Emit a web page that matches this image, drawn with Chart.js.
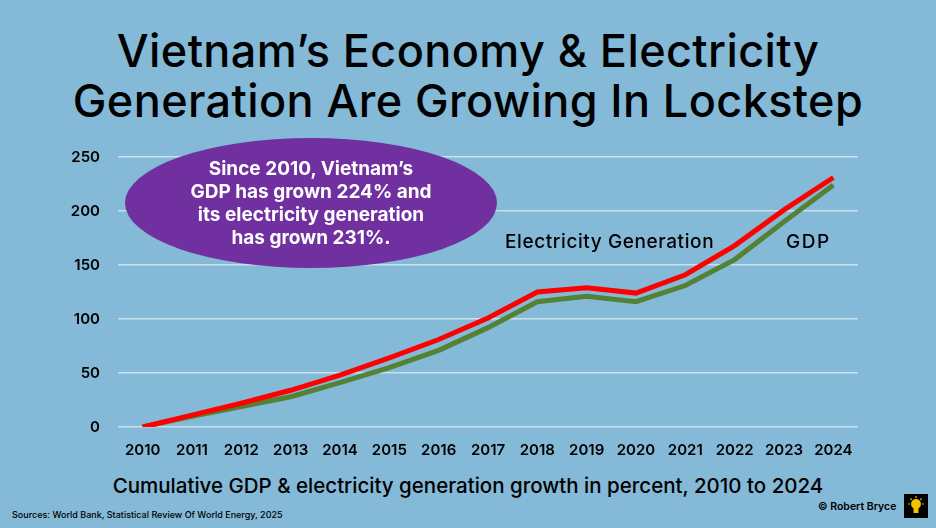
<!DOCTYPE html>
<html>
<head>
<meta charset="utf-8">
<script src="https://cdn.jsdelivr.net/npm/chart.js@4.4.1/dist/chart.umd.min.js"></script>
<style>
  html, body { margin: 0; padding: 0; }
  body {
    width: 936px; height: 528px; position: relative; overflow: hidden;
    background: #84b9d7; font-family: Inter, "Noto Sans", sans-serif; color: #000;
  }
  #title {
    position: absolute; left: 0; top: 26px; width: 936px; text-align: center;
    font-size: 45px; font-weight: 500; line-height: 50px; letter-spacing: 0.4px;
  }
  #wrap { position: absolute; left: 0; top: 130px; width: 936px; height: 340px; }
  #bubble {
    position: absolute; left: 125px; top: 138px; width: 372px; height: 130px;
    border-radius: 50%; background: #7030a0; color: #fff;
    display: flex; align-items: center; justify-content: center; text-align: center;
    font-size: 19px; font-weight: 700; line-height: 23px;
  }
  .lbl { position: absolute; font-size: 19px; font-weight: 500; letter-spacing: 0.6px; }
  #caption {
    position: absolute; left: 0; top: 473px; width: 936px; text-align: center;
    font-size: 20.5px; font-weight: 500;
  }
  #source { position: absolute; left: 12px; top: 509px; font-size: 9px; font-weight: 500; }
  #credit { position: absolute; left: 818px; top: 500px; font-size: 10.5px; font-weight: 600; }
  #logo { position: absolute; left: 904px; top: 494px; }
</style>
</head>
<body>
<div id="title">Vietnam’s Economy &amp; Electricity<br>Generation Are Growing In Lockstep</div>
<div id="wrap"><canvas id="chart"></canvas></div>
<div id="bubble">Since 2010, Vietnam’s<br>GDP has grown 224% and<br>its electricity generation<br>has grown 231%.</div>
<div class="lbl" style="left:505px; top:230px;">Electricity Generation</div>
<div class="lbl" style="left:786px; top:230px; letter-spacing:1.5px;">GDP</div>
<div id="caption">Cumulative GDP &amp; electricity generation growth in percent, 2010 to 2024</div>
<div id="source">Sources: World Bank, Statistical Review Of World Energy, 2025</div>
<div id="credit">© Robert Bryce</div>
<svg id="logo" width="24" height="24" viewBox="0 0 24 24">
  <rect width="24" height="24" fill="#000"/>
  <circle cx="12" cy="10" r="5" fill="#f2c200"/>
  <rect x="9.5" y="14" width="5" height="5" fill="#f2c200"/>
  <g stroke="#f2c200" stroke-width="1.2">
    <line x1="12" y1="2" x2="12" y2="4"/><line x1="4" y1="10" x2="6" y2="10"/>
    <line x1="18" y1="10" x2="20" y2="10"/><line x1="6.5" y1="4.5" x2="7.8" y2="5.8"/>
    <line x1="17.5" y1="4.5" x2="16.2" y2="5.8"/>
  </g>
</svg>
<script>
const years = ['2010','2011','2012','2013','2014','2015','2016','2017','2018','2019','2020','2021','2022','2023','2024'];
const electricity = [0, 11, 22, 34, 48, 64, 81, 101, 125, 129, 124, 141, 168, 201, 231];
const gdp = [0, 10, 19, 28, 41, 55, 71, 92, 116, 121, 116, 131, 155, 190, 224];
const yTicks = [0, 50, 100, 150, 200, 250];

const tickFont = { family: 'Inter, "Noto Sans", sans-serif', size: 15, weight: '600' };

new Chart(document.getElementById('chart'), {
  type: 'line',
  data: {
    labels: years,
    datasets: [
      { label: 'GDP', data: gdp, borderColor: '#548235', borderWidth: 5, pointRadius: 0, tension: 0, order: 2 },
      { label: 'Electricity Generation', data: electricity, borderColor: '#ff0000', borderWidth: 5, pointRadius: 0, tension: 0, order: 1 }
    ]
  },
  options: {
    responsive: true,
    maintainAspectRatio: false,
    animation: false,
    layout: { padding: { left: 68, right: 78, top: 7, bottom: 3 } },
    plugins: { legend: { display: false }, tooltip: { enabled: false } },
    scales: {
      x: {
        offset: true,
        grid: { display: false, drawTicks: false },
        border: { display: false },
        ticks: { color: '#000', font: tickFont, padding: 14, maxRotation: 0, autoSkip: false },
        afterFit: s => { s.height = 40; }
      },
      y: {
        min: 0, max: 250,
        afterBuildTicks: s => { s.ticks = yTicks.map(v => ({ value: v })); },
        grid: { color: 'rgba(225,238,246,0.75)', lineWidth: 1.5, drawTicks: false },
        border: { display: false },
        ticks: { color: '#000', font: tickFont, padding: 18 },
        afterFit: s => { s.width = 50; }
      }
    }
  }
});
</script>
</body>
</html>
